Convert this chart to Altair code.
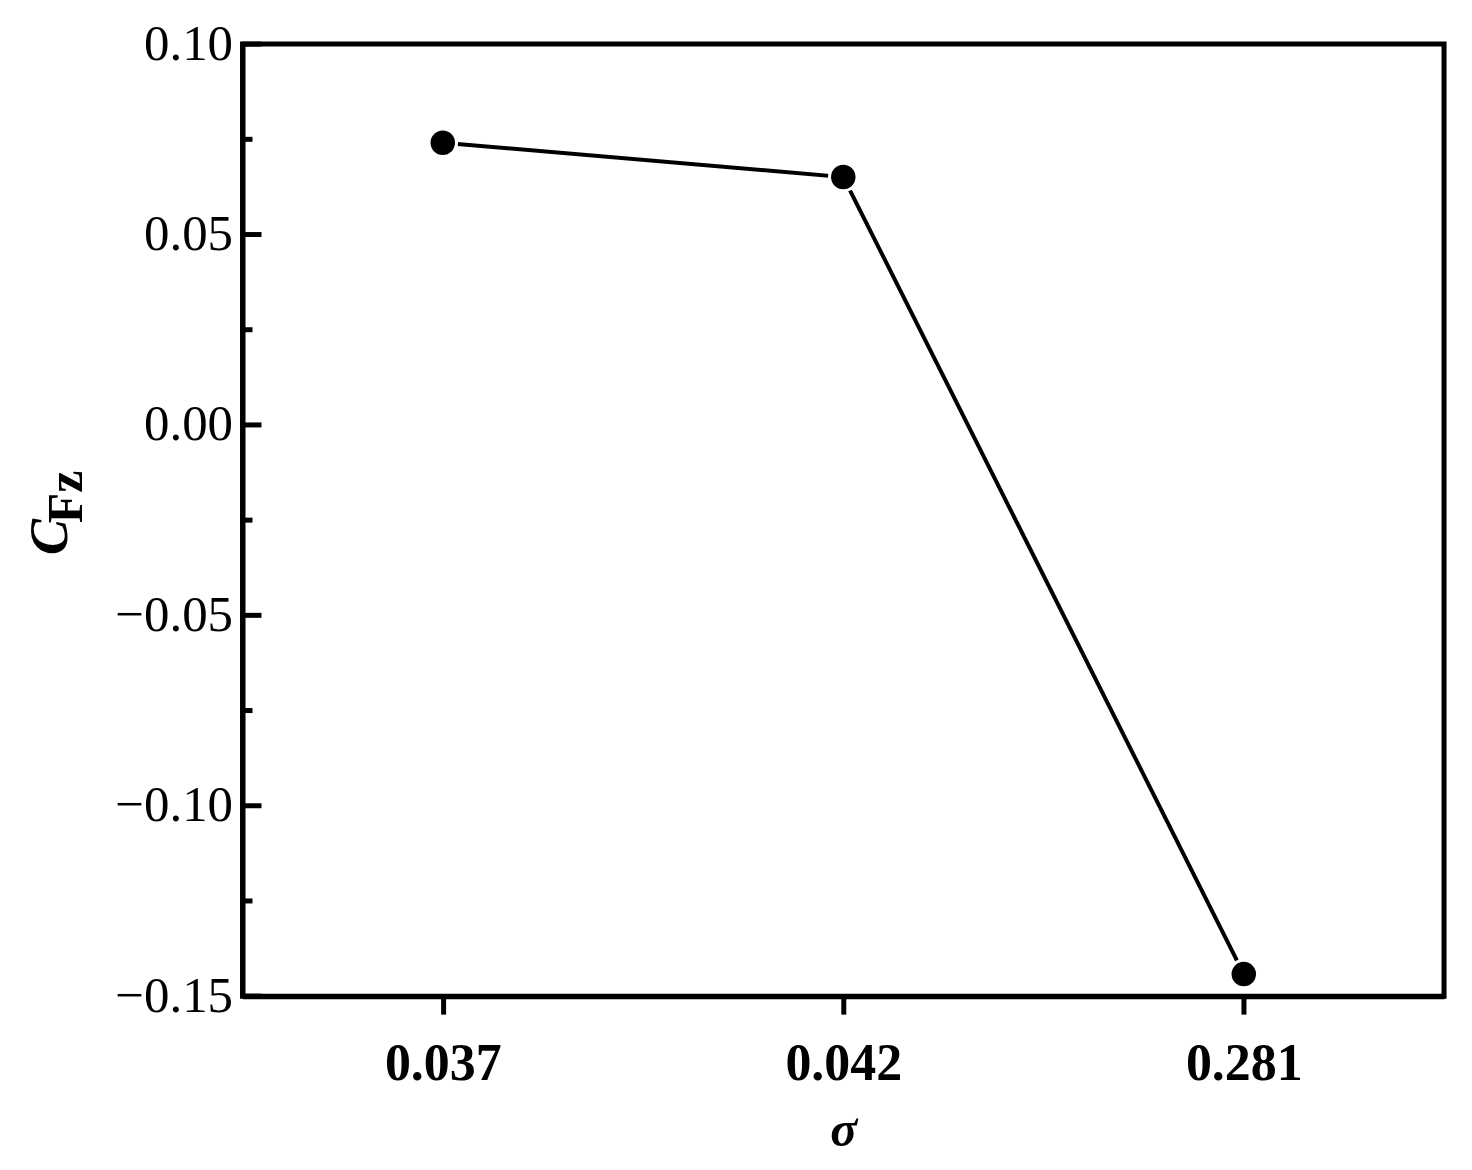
import altair as alt
import pandas as pd

sigma = ["0.037", "0.042", "0.281"]
cfz = [0.0741, 0.0651, -0.1442]
major_ticks = [0.10, 0.05, 0.00, -0.05, -0.10, -0.15]
minor_ticks = [0.075, 0.025, -0.025, -0.075, -0.125]
y_title_main = "C"
y_title_sub = "Fz"
x_title = "σ"

df = pd.DataFrame({"sigma": sigma, "cfz": cfz})
df_major = pd.DataFrame({"v": major_ticks})
df_minor = pd.DataFrame({"v": minor_ticks})

FONT = "Liberation Serif"
yscale = alt.Scale(domain=[-0.15, 0.10], nice=False, zero=False)
xscale = alt.Scale(type="point", padding=0.5)

x_enc = alt.X("sigma:N", sort=sigma, scale=xscale,
              axis=alt.Axis(title=x_title, labelAngle=0, labelFont=FONT, labelFontSize=52,
                            labelFontWeight="bold", labelColor="black", labelPadding=25,
                            ticks=True, tickSize=18, tickWidth=5, tickColor="black",
                            domainColor="black", domainWidth=5,
                            titleFont=FONT, titleFontSize=50, titleFontStyle="italic",
                            titleFontWeight="bold", titleColor="black", titlePadding=16))
y_enc = alt.Y("cfz:Q", scale=yscale,
              axis=alt.Axis(title=None, values=major_ticks, format=".2f", labelFont=FONT,
                            labelFontSize=51, labelColor="black", labelPadding=10,
                            ticks=False, tickSize=0, grid=False,
                            domainColor="black", domainWidth=5))

line = alt.Chart(df).mark_line(color="black", strokeWidth=4).encode(x=x_enc, y=y_enc)
pts = alt.Chart(df).mark_point(filled=True, shape="circle", size=760, color="black",
                               opacity=1, stroke="white", strokeWidth=3, strokeOpacity=1).encode(
    x=alt.X("sigma:N", sort=sigma, scale=xscale), y=alt.Y("cfz:Q", scale=yscale))

maj = alt.Chart(df_major).mark_rule(color="black", strokeWidth=5).encode(
    y=alt.Y("v:Q", scale=yscale), x=alt.value(0), x2=alt.value(19))
mino = alt.Chart(df_minor).mark_rule(color="black", strokeWidth=5).encode(
    y=alt.Y("v:Q", scale=yscale), x=alt.value(0), x2=alt.value(10))

t1 = alt.Chart(pd.DataFrame({"t": [y_title_main]})).mark_text(
    font=FONT, fontSize=54, fontStyle="italic", fontWeight="bold", color="black",
    angle=270, align="center", baseline="alphabetic").encode(
    text="t:N", x=alt.value(-176), y=alt.value(494))
t2 = alt.Chart(pd.DataFrame({"t": [y_title_sub]})).mark_text(
    font=FONT, fontSize=50, fontWeight="bold", color="black",
    angle=270, align="left", baseline="alphabetic").encode(
    text="t:N", x=alt.value(-161), y=alt.value(480))

chart = alt.layer(line, pts, maj, mino, t1, t2).properties(
    width=1204, height=954,
    autosize=alt.AutoSizeParams(type="none"),
    padding={"left": 235, "top": 35, "right": 20, "bottom": 168},
    background="white",
).configure_view(stroke="black", strokeWidth=5)

chart.save("out.html", embed_options={"renderer": "svg", "actions": False})
